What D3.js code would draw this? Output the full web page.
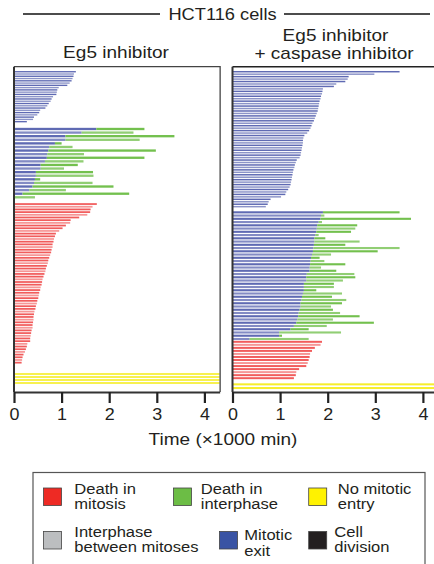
<!DOCTYPE html>
<html>
<head>
<meta charset="UTF-8">
<script src="https://d3js.org/d3.v7.min.js"></script>
<style>
  body { margin: 0; background: #fff; }
  text { font-family: "Liberation Sans", Arial, sans-serif; fill: #231f20; }
</style>
</head>
<body>
<div id="chart"></div>
<script>
// ---- data (times in x1000 min) ----
var ticks = [0, 1, 2, 3, 4];
var endOfImaging = 4.32;

// Eg5 inhibitor
var leftExitOnly = [1.30, 1.26, 1.25, 1.23, 1.21, 1.17, 1.12, 0.94, 0.91, 0.90, 0.89, 0.82,
  0.79, 0.77, 0.73, 0.70, 0.66, 0.55, 0.53, 0.49, 0.42, 0.40, 0.27];
var leftExitTime = [1.73, 1.42, 1.08, 1.08, 0.86, 0.74, 0.72, 0.70, 0.69, 0.65, 0.56, 0.56,
  0.46, 0.46, 0.44, 0.42, 0.39, 0.32, 0.18, 0.02];
var leftDeathTime = [2.74, 2.51, 3.37, 2.64, 1.00, 1.23, 2.98, 1.47, 2.74, 1.46, 1.34, 1.05,
  1.66, 1.67, 0.55, 1.65, 2.09, 1.09, 2.42, 0.44];
var leftMitoticDeath = [1.74, 1.65, 1.61, 1.60, 1.54, 1.37, 1.19, 1.18, 1.09, 1.02, 0.95, 0.88,
  0.86, 0.84, 0.83, 0.81, 0.81, 0.79, 0.78, 0.76, 0.74, 0.72, 0.71, 0.69, 0.67, 0.66, 0.64,
  0.62, 0.60, 0.59, 0.58, 0.56, 0.55, 0.53, 0.52, 0.51, 0.49, 0.48, 0.46, 0.45, 0.43, 0.42,
  0.41, 0.41, 0.40, 0.39, 0.39, 0.37, 0.36, 0.35, 0.34, 0.34, 0.28, 0.27, 0.25, 0.23, 0.20,
  0.18, 0.17, 0.16];
var leftNoEntry = [4.32, 4.32, 4.32, 4.32];

// Eg5 inhibitor + caspase inhibitor
var rightExitOnly = [3.51, 2.98, 2.44, 2.42, 2.37, 2.18, 2.13, 1.90, 1.89, 1.88, 1.86, 1.85,
  1.83, 1.82, 1.81, 1.80, 1.79, 1.77, 1.75, 1.73, 1.71, 1.68, 1.66, 1.64, 1.61, 1.57, 1.51,
  1.49, 1.48, 1.48, 1.47, 1.46, 1.45, 1.44, 1.43, 1.41, 1.35, 1.33, 1.31, 1.30, 1.28, 1.27,
  1.26, 1.25, 1.24, 1.23, 1.22, 1.20, 1.17, 1.13, 1.11, 1.02, 0.80, 0.76, 0.74, 0.70];
var rightExitTime = [1.90, 1.86, 1.85, 1.81, 1.78, 1.77, 1.76, 1.74, 1.72, 1.72, 1.71, 1.70,
  1.69, 1.67, 1.65, 1.64, 1.63, 1.62, 1.62, 1.56, 1.55, 1.55, 1.50, 1.50, 1.50, 1.48, 1.46,
  1.45, 1.43, 1.43, 1.41, 1.39, 1.38, 1.36, 1.34, 1.29, 1.22, 0.98, 0.98, 0.36];
var rightDeathTime = [3.51, 1.93, 3.75, 1.88, 2.62, 2.58, 2.49, 1.81, 1.95, 2.67, 2.37, 3.51,
  3.05, 2.07, 1.83, 1.93, 2.37, 1.86, 2.18, 2.56, 2.58, 2.32, 2.13, 2.13, 1.76, 2.30, 2.09,
  2.39, 2.30, 2.07, 2.11, 2.26, 2.67, 2.11, 2.97, 1.98, 1.60, 2.28, 1.04, 1.60];
var rightMitoticDeath = [1.88, 1.85, 1.73, 1.67, 1.63, 1.62, 1.60, 1.58, 1.55, 1.40, 1.34,
  1.33, 1.29];
var rightNoEntry = [4.32, 4.32];

var legendLabels = [["Death in", "mitosis"], ["Death in", "interphase"], ["No mitotic", "entry"],
  ["Interphase", "between mitoses"], ["Mitotic", "exit"], ["Cell", "division"]];
var legendColors = ["#ee2a24", "#6cbd45", "#fff200", "#bcbec0", "#3953a4", "#231f20"];

// ---- layout ----
var W = 434, H = 564;
var axisY = 392, topY = 66.7;
var SX = 1.12; // text in the figure is slightly wide

var svg = d3.select("#chart").append("svg")
  .attr("width", W).attr("height", H);

function label(x, y, str, size, anchor) {
  return svg.append("text")
    .attr("transform", "translate(" + x + "," + y + ") scale(" + SX + ",1)")
    .attr("text-anchor", anchor || "middle")
    .style("font-size", size + "px")
    .text(str);
}

var colBlue = "#4e5aab", colGreen = "#6cbd45", colRed = "#ef4040", colYellow = "#f6ee2c";

var panels = [
  { x0: 14, exitOnly: leftExitOnly, exitT: leftExitTime, deathT: leftDeathTime,
    mitDeath: leftMitoticDeath, noEntry: leftNoEntry,
    bands: [[70.6, 122.8], [127.2, 199.1], [202.7, 364.0], [372.5, 384.5]] },
  { x0: 232.5, exitOnly: rightExitOnly, exitT: rightExitTime, deathT: rightDeathTime,
    mitDeath: rightMitoticDeath, noEntry: rightNoEntry,
    bands: [[70.5, 207.9], [210.7, 340.6], [340.3, 379.7], [382.5, 389.9]] }
];

panels.forEach(function(p, pi) {
  var x = d3.scaleLinear().domain([0, endOfImaging]).range([p.x0, p.x0 + endOfImaging * 47.6]);
  var g = svg.append("g");

  function band(n, r, pad) {
    return d3.scaleBand().domain(d3.range(n)).range(r).paddingInner(pad).paddingOuter(pad / 2);
  }

  // mitotic exit, still alive
  var y1 = band(p.exitOnly.length, p.bands[0], 0.4);
  g.selectAll(".exit").data(p.exitOnly).enter().append("rect")
    .attr("x", x(0)).attr("y", function(d, i) { return y1(i); })
    .attr("width", function(d) { return x(d) - x(0); })
    .attr("height", y1.bandwidth())
    .attr("fill", colBlue).attr("opacity", function(d, i) { return i % 2 ? 0.65 : 0.9; });

  // mitotic exit, then death in interphase
  var y2 = band(p.exitT.length, p.bands[1], 0.35);
  g.selectAll(".exit2").data(p.exitT).enter().append("rect")
    .attr("x", x(0)).attr("y", function(d, i) { return y2(i); })
    .attr("width", function(d) { return x(d) - x(0); })
    .attr("height", y2.bandwidth())
    .attr("fill", colBlue).attr("opacity", function(d, i) { return i % 2 ? 0.7 : 0.9; });
  g.selectAll(".death2").data(p.deathT).enter().append("rect")
    .attr("x", function(d, i) { return x(p.exitT[i]); })
    .attr("y", function(d, i) { return y2(i); })
    .attr("width", function(d, i) { return Math.max(0, x(d) - x(p.exitT[i])); })
    .attr("height", y2.bandwidth())
    .attr("fill", colGreen).attr("opacity", function(d, i) { return i % 2 ? 0.75 : 0.95; });

  // death in mitosis
  var y3 = band(p.mitDeath.length, p.bands[2], 0.35);
  g.selectAll(".mit").data(p.mitDeath).enter().append("rect")
    .attr("x", x(0)).attr("y", function(d, i) { return y3(i); })
    .attr("width", function(d) { return x(d) - x(0); })
    .attr("height", y3.bandwidth())
    .attr("fill", colRed).attr("opacity", function(d, i) { return i % 3 === 1 ? 0.55 : 0.85; });

  // no mitotic entry
  var y4 = band(p.noEntry.length, p.bands[3], 0.45);
  g.selectAll(".none").data(p.noEntry).enter().append("rect")
    .attr("x", x(0)).attr("y", function(d, i) { return y4(i); })
    .attr("width", function(d) { return x(d) - x(0); })
    .attr("height", y4.bandwidth())
    .attr("fill", colYellow);

  // frame
  if (pi === 0) {
    svg.append("path")
      .attr("d", "M" + x(0) + "," + topY + "H" + (x(endOfImaging) + 0.5) + "V" + axisY)
      .attr("fill", "none").attr("stroke", "#444").attr("stroke-width", 1.3);
  } else {
    svg.append("path")
      .attr("d", "M" + x(0) + "," + topY + "H" + W)
      .attr("fill", "none").attr("stroke", "#222").attr("stroke-width", 1.5);
  }
  svg.append("line")
    .attr("x1", x(0)).attr("x2", x(0)).attr("y1", topY).attr("y2", axisY)
    .attr("stroke", "#333").attr("stroke-width", 2);

  var ax = svg.append("g")
    .attr("transform", "translate(0," + axisY + ")")
    .call(d3.axisBottom(x).tickValues(ticks).tickSize(11).tickSizeOuter(0).tickPadding(5.6)
      .tickFormat(d3.format("d")));
  ax.select(".domain").attr("stroke", "#333").attr("stroke-width", 2);
  ax.selectAll(".tick line").attr("stroke", "#222").attr("stroke-width", 2.2);
  ax.selectAll(".tick text")
    .attr("transform", "scale(" + SX + ",1)")
    .style("font-size", "16px")
    .style("font-family", "'Liberation Sans', Arial, sans-serif")
    .attr("fill", "#231f20");
});

// header
svg.append("line").attr("x1", 23).attr("x2", 160).attr("y1", 14).attr("y2", 14)
  .attr("stroke", "#111").attr("stroke-width", 1.4);
svg.append("line").attr("x1", 284).attr("x2", 430).attr("y1", 14).attr("y2", 14)
  .attr("stroke", "#111").attr("stroke-width", 1.4);
label(222.5, 20, "HCT116 cells", 16.3);

label(116, 57.5, "Eg5 inhibitor", 17);
label(335.5, 40.7, "Eg5 inhibitor", 17);
label(334, 59, "+ caspase inhibitor", 17);

label(223, 445, "Time (\u00d71000 min)", 17);

// legend
svg.append("rect")
  .attr("x", 33).attr("y", 472.5).attr("width", 392).attr("height", 120)
  .attr("fill", "none").attr("stroke", "#555").attr("stroke-width", 1.2);

var legX = [43.5, 173.5, 308.7, 43.5, 219.5, 308.7];
var legTextX = [74.3, 200.7, 337.7, 74.3, 244.3, 334.3];
var legRowY = [488, 531.5];
var leg = svg.append("g");
legendLabels.forEach(function(lines, i) {
  var row = i < 3 ? 0 : 1;
  leg.append("rect")
    .attr("x", legX[i]).attr("y", legRowY[row])
    .attr("width", 18).attr("height", 17.5)
    .attr("fill", legendColors[i])
    .attr("stroke", "#444").attr("stroke-width", 0.8);
  var by = row === 0 ? 493.5 : 536.5;
  if (i === 4) by = 540;
  lines.forEach(function(s, k) {
    label(legTextX[i], by + k * 15.5, s, 14.8, "start");
  });
});
</script>
</body>
</html>
